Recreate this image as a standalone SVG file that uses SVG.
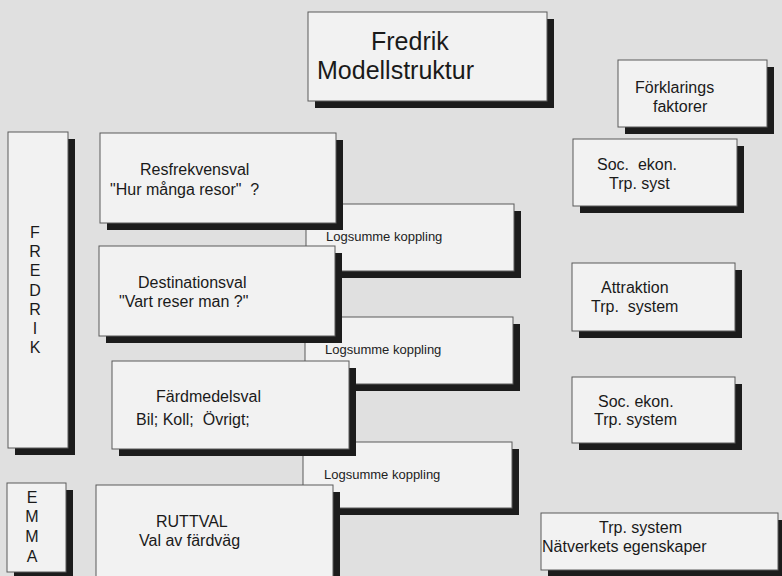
<svg xmlns="http://www.w3.org/2000/svg" width="782" height="576" viewBox="0 0 782 576">
<style>
.bg{fill:#e0e0e0}
.sh{fill:#1c1c1c}
.bx{fill:#f2f2f2;stroke:#5a5a5a;stroke-width:1}
text{font-family:"Liberation Sans",Arial,sans-serif;fill:#1a1a1a;white-space:pre}
.t16{font-size:16px}
.t25{font-size:25px}
.lg{font-size:13px;fill:#222}
.v{font-size:16px;text-anchor:middle}
</style>
<rect class="bg" x="0" y="0" width="782" height="576"/>

<g id="connectors">
  <g id="logsumme1">
    <rect class="sh" x="313" y="211" width="208" height="67"/>
    <rect class="bx" x="306" y="204" width="208" height="67"/>
    <text class="lg" x="326" y="241">Logsumme koppling</text>
  </g>
  <g id="logsumme2">
    <rect class="sh" x="312" y="324" width="208" height="67"/>
    <rect class="bx" x="305" y="317" width="208" height="67"/>
    <text class="lg" x="325" y="354">Logsumme koppling</text>
  </g>
  <g id="logsumme3">
    <rect class="sh" x="310" y="449" width="209" height="66"/>
    <rect class="bx" x="303" y="442" width="209" height="66"/>
    <text class="lg" x="324" y="479">Logsumme koppling</text>
  </g>
</g>

<g id="title">
  <rect class="sh" x="315" y="19" width="239" height="89"/>
  <rect class="bx" x="308" y="12" width="239" height="89"/>
  <text class="t25" x="371" y="50">Fredrik</text>
  <text class="t25" x="317" y="79">Modellstruktur</text>
</g>

<g id="forklarings">
  <rect class="sh" x="625" y="67" width="149" height="67"/>
  <rect class="bx" x="618" y="60" width="149" height="67"/>
  <text class="t16" x="635" y="93">Förklarings</text>
  <text class="t16" x="653" y="112">faktorer</text>
</g>

<g id="fredrik">
  <rect class="sh" x="15" y="139" width="60" height="316"/>
  <rect class="bx" x="8" y="132" width="60" height="316"/>
  <text class="v" x="35" y="238">F</text>
  <text class="v" x="35" y="257">R</text>
  <text class="v" x="35" y="276">E</text>
  <text class="v" x="35" y="296">D</text>
  <text class="v" x="35" y="315">R</text>
  <text class="v" x="35" y="334">I</text>
  <text class="v" x="35" y="353">K</text>
</g>

<g id="emma">
  <rect class="sh" x="14" y="490" width="59" height="89"/>
  <rect class="bx" x="7" y="483" width="59" height="89"/>
  <text class="v" x="32" y="503">E</text>
  <text class="v" x="32" y="522">M</text>
  <text class="v" x="32" y="542">M</text>
  <text class="v" x="32" y="562">A</text>
</g>

<g id="resfrekvensval">
  <rect class="sh" x="107" y="140" width="236" height="90"/>
  <rect class="bx" x="100" y="133" width="236" height="90"/>
  <text class="t16" x="140" y="175">Resfrekvensval</text>
  <text class="t16" x="110" y="195">"Hur många resor"  ?</text>
</g>

<g id="destinationsval">
  <rect class="sh" x="106" y="253" width="236" height="90"/>
  <rect class="bx" x="99" y="246" width="236" height="90"/>
  <text class="t16" x="138" y="288">Destinationsval</text>
  <text class="t16" x="119" y="307">"Vart reser man ?"</text>
</g>

<g id="fardmedelsval">
  <rect class="sh" x="119" y="368" width="237" height="88"/>
  <rect class="bx" x="112" y="361" width="237" height="88"/>
  <text class="t16" x="156" y="402">Färdmedelsval</text>
  <text class="t16" x="136" y="425">Bil; Koll;  Övrigt;</text>
</g>

<g id="ruttval">
  <rect class="sh" x="103" y="492" width="237" height="95"/>
  <rect class="bx" x="96" y="485" width="237" height="95"/>
  <text class="t16" x="156" y="527">RUTTVAL</text>
  <text class="t16" x="139" y="546">Val av färdväg</text>
</g>

<g id="soc1">
  <rect class="sh" x="580" y="146" width="164" height="67"/>
  <rect class="bx" x="573" y="139" width="164" height="67"/>
  <text class="t16" x="597" y="170">Soc.  ekon.</text>
  <text class="t16" x="609" y="189">Trp. syst</text>
</g>

<g id="attraktion">
  <rect class="sh" x="579" y="270" width="163" height="68"/>
  <rect class="bx" x="572" y="263" width="163" height="68"/>
  <text class="t16" x="601" y="293">Attraktion</text>
  <text class="t16" x="591" y="312">Trp.  system</text>
</g>

<g id="soc2">
  <rect class="sh" x="579" y="384" width="163" height="66"/>
  <rect class="bx" x="572" y="377" width="163" height="66"/>
  <text class="t16" x="598" y="407">Soc. ekon.</text>
  <text class="t16" x="594" y="425">Trp. system</text>
</g>

<g id="natverk">
  <rect class="sh" x="548" y="520" width="237" height="57"/>
  <rect class="bx" x="541" y="513" width="237" height="57"/>
  <text class="t16" x="599" y="533">Trp. system</text>
  <text class="t16" x="542" y="552">Nätverkets egenskaper</text>
</g>
</svg>
